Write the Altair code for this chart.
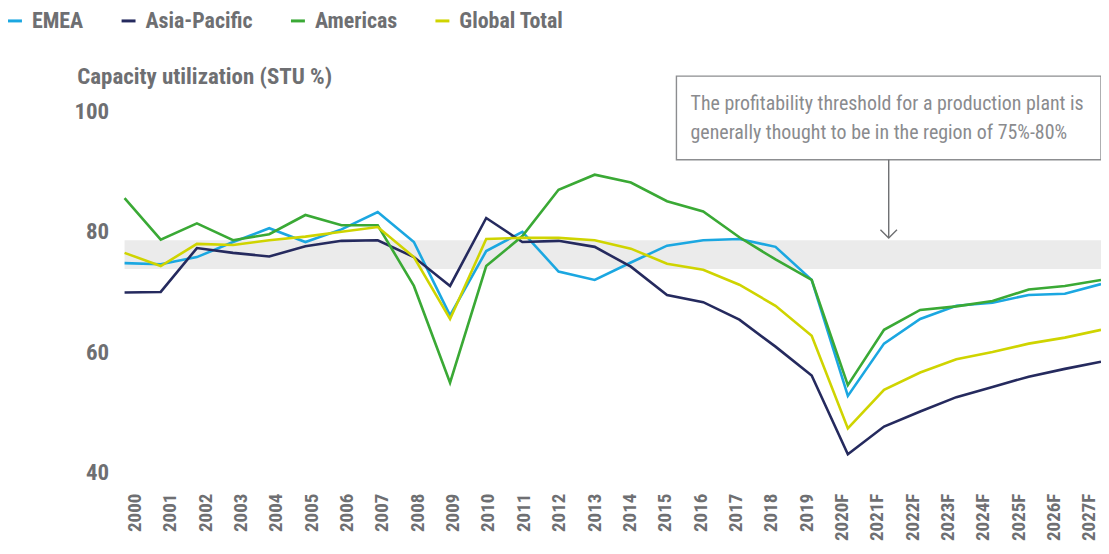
import altair as alt
import pandas as pd

YEARS = ["2000", "2001", "2002", "2003", "2004", "2005", "2006", "2007", "2008", "2009",
         "2010", "2011", "2012", "2013", "2014", "2015", "2016", "2017", "2018", "2019",
         "2020F", "2021F", "2022F", "2023F", "2024F", "2025F", "2026F", "2027F"]
SERIES = ["EMEA", "Asia-Pacific", "Americas", "Global Total"]
EMEA = [74.8, 74.6, 75.8, 78.3, 80.6, 78.3, 80.4, 83.3, 78.3, 66.1,
        76.8, 80.0, 73.4, 72.0, 74.9, 77.7, 78.6, 78.8, 77.5, 72.0,
        52.7, 61.4, 65.5, 67.7, 68.2, 69.5, 69.7, 71.3]
ASIA = [69.9, 70.0, 77.3, 76.5, 75.9, 77.6, 78.5, 78.6, 75.8, 71.0,
        82.3, 78.3, 78.5, 77.5, 74.2, 69.5, 68.3, 65.4, 60.9, 56.1,
        43.0, 47.6, 50.1, 52.5, 54.2, 55.9, 57.2, 58.4]
AMERICAS = [85.6, 78.7, 81.4, 78.6, 79.6, 82.8, 81.1, 81.1, 71.0, 54.9,
            74.3, 79.3, 87.0, 89.5, 88.2, 85.1, 83.4, 79.1, 75.4, 72.0,
            54.5, 63.7, 67.0, 67.6, 68.5, 70.4, 71.0, 72.0]
GLOBAL = [76.5, 74.3, 78.0, 77.8, 78.6, 79.2, 80.0, 80.8, 75.8, 65.5,
          78.8, 79.0, 79.0, 78.6, 77.2, 74.7, 73.7, 71.2, 67.7, 62.7,
          47.3, 53.7, 56.6, 58.8, 60.0, 61.4, 62.4, 63.7]
COLORS = ["#1ba7e1", "#252a5e", "#3aa935", "#cfd400"]

BAND_LOW, BAND_HIGH = 73.8, 78.6
NOTE = ["The profitability threshold for a production plant is",
        "generally thought to be in the region of 75%-80%"]
Y_TICKS = [40, 60, 80, 100]

FONT = "Liberation Sans Narrow, Roboto Condensed, DejaVu Sans Condensed, Arial Narrow, sans-serif"
GRAY = "#6e6f72"
NOTE_GRAY = "#8a8b8e"

rows = []
for k, (name, vals) in enumerate(zip(SERIES, [EMEA, ASIA, AMERICAS, GLOBAL])):
    for i, (yr, v) in enumerate(zip(YEARS, vals)):
        rows.append({"idx": i, "year": yr, "series": name, "value": v, "k": k})
df = pd.DataFrame(rows)

label_array = "[" + ",".join(f"'{y}'" for y in YEARS) + "]"
last = len(YEARS) - 1
x_scale = alt.Scale(domain=[0, last], nice=False, zero=False)
# the category labels of the reference sit on a slightly narrower spacing than the data points
label_scale = alt.Scale(domain=[-0.28, last + 0.34], nice=False, zero=False)
y_scale = alt.Scale(domain=[40, 100], nice=False, zero=False)

x_axis = alt.Axis(values=list(range(len(YEARS))), labelExpr=f"{label_array}[datum.value]",
                  labelAngle=-90, labelFont=FONT, labelFontSize=19, labelFontWeight="bold",
                  labelColor=GRAY, labelPadding=21, domain=False, ticks=False, grid=False,
                  labelOverlap=False, title=None)
y_axis = alt.Axis(values=Y_TICKS, labelFont=FONT, labelFontSize=23, labelFontWeight="bold",
                  labelColor=GRAY, labelPadding=16, domain=False, ticks=False, grid=False,
                  title="Capacity utilization (STU %)", titleAngle=0, titleX=-48, titleY=-28,
                  titleAlign="left", titleBaseline="alphabetic", titleFont=FONT,
                  titleFontSize=23, titleFontWeight="bold", titleColor=GRAY)


def X(field):
    return alt.X(field, scale=x_scale, axis=None)


def Y(field):
    return alt.Y(field, scale=y_scale, axis=y_axis)


band_df = pd.DataFrame({"x0": [0], "x1": [last], "lo": [BAND_LOW], "hi": [BAND_HIGH]})
band = alt.Chart(band_df).mark_rect(color="#ebebeb").encode(
    x=X("x0:Q"), x2="x1:Q", y=Y("lo:Q"), y2="hi:Q",
)

lines = alt.Chart(df).mark_line(strokeWidth=2.6).encode(
    x=X("idx:Q"),
    y=Y("value:Q"),
    color=alt.Color("series:N", scale=alt.Scale(domain=SERIES, range=COLORS),
                    legend=alt.Legend(orient="none", legendX=-121, legendY=-102,
                                      direction="horizontal", title=None,
                                      labelFont=FONT, labelFontSize=22, labelFontWeight="bold",
                                      labelColor=GRAY, symbolType="M-1,0L1,0",
                                      symbolSize=196, symbolStrokeWidth=3,
                                      labelOffset=6, columnPadding=32)),
    order="k:O",
)

# annotation box with arrow
BOX_X0, BOX_X1, BOX_Y0, BOX_Y1 = 15.26, 27.0, 92.0, 105.9
ARROW_X, ARROW_TIP = 21.13, 78.96
box_df = pd.DataFrame({"x0": [BOX_X0], "x1": [BOX_X1], "y0": [BOX_Y0], "y1": [BOX_Y1]})
box = alt.Chart(box_df).mark_rect(fill="white", stroke="#8c8d90", strokeWidth=1.4).encode(
    x=X("x0:Q"), x2="x1:Q", y=Y("y0:Q"), y2="y1:Q",
)
note_df = pd.DataFrame({"x": [15.65], "y": [101.3], "t": [NOTE]})
note = alt.Chart(note_df).mark_text(align="left", baseline="middle", font=FONT, fontSize=20,
                                    lineHeight=29, color=NOTE_GRAY).encode(
    x=X("x:Q"), y=Y("y:Q"), text="t",
)
arrow_df = pd.DataFrame({"x": [ARROW_X], "y0": [BOX_Y0], "y1": [ARROW_TIP]})
arrow = alt.Chart(arrow_df).mark_rule(color="#6e6f72", strokeWidth=1.4).encode(
    x=X("x:Q"), y=Y("y0:Q"), y2="y1:Q",
)
head = alt.Chart(arrow_df).mark_point(shape="M-1,-1L0,0L1,-1", filled=False, size=275,
                                      color="#6e6f72", strokeWidth=1.4, opacity=1).encode(
    x=X("x:Q"), y=Y("y1:Q"),
)

# invisible layer carrying the category axis
label_df = pd.DataFrame({"idx": list(range(len(YEARS))), "v": [40] * len(YEARS)})
labels = alt.Chart(label_df).mark_point(opacity=0).encode(
    x=alt.X("idx:Q", scale=label_scale, axis=x_axis),
    y=Y("v:Q"),
)

main = alt.layer(band, lines, box, note, arrow, head)
chart = alt.layer(main, labels).resolve_scale(x="independent").properties(
    width=980, height=362,
    autosize=alt.AutoSizeParams(type="none"),
    padding={"left": 117, "top": 103, "right": 0, "bottom": 69},
    background="white",
).configure_view(stroke=None)

chart.save("out.html", embed_options={"renderer": "svg", "actions": False})
